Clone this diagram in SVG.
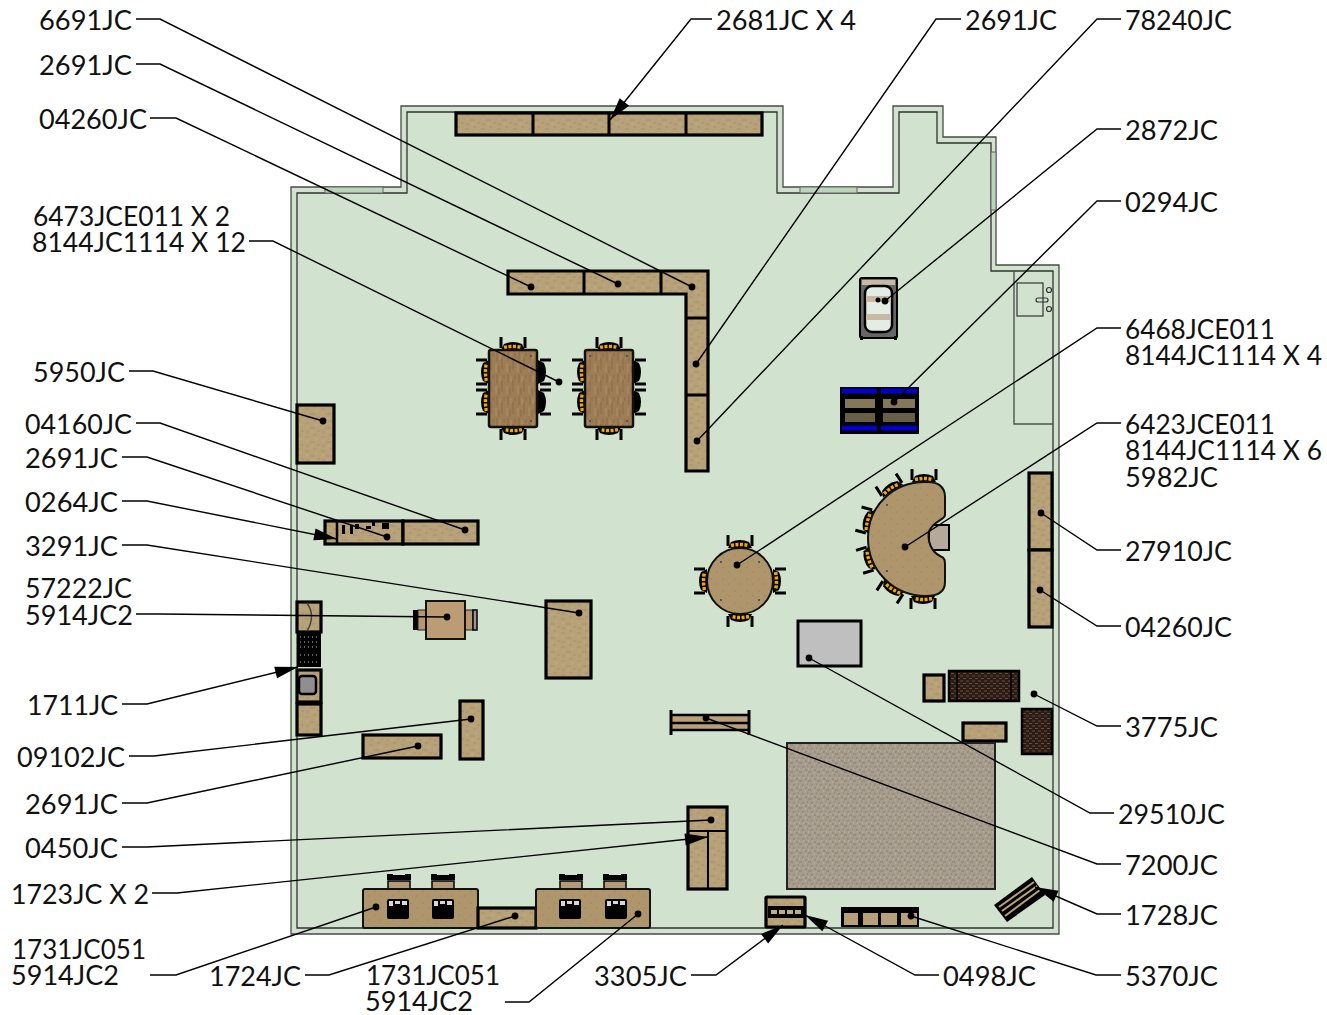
<svg xmlns="http://www.w3.org/2000/svg" width="1327" height="1015" viewBox="0 0 1327 1015">
<style>
text{font-family:"Lato","Noto Sans",sans-serif;font-size:27px;fill:#111}
.t{fill:url(#tan);stroke:#000;stroke-width:3.200}
.w{fill:url(#oak);stroke:#111;stroke-width:2.500}
.r{fill:url(#round);stroke:#111;stroke-width:2}
.ln{fill:none;stroke:#000;stroke-width:1.400}
.win{fill:#b9d6b8;stroke:#666;stroke-width:1}
.thin{fill:none;stroke:#333;stroke-width:1.300}
.sc{fill:#555}
</style>
<defs>
<marker id="dot" markerUnits="userSpaceOnUse" markerWidth="10" markerHeight="10" refX="5" refY="5"><circle cx="5" cy="5" r="3.400" fill="#000"/></marker>
<marker id="arr" markerUnits="userSpaceOnUse" markerWidth="25" markerHeight="14" refX="24" refY="7" orient="auto"><path d="M1,1L24,7L1,13Z" fill="#000"/></marker>
<pattern id="tan" width="16" height="14" patternUnits="userSpaceOnUse"><rect width="16" height="14" fill="#b7a178"/><path d="M1,3h4M9,1h3M6,8h5M13,11h3M2,12h3" stroke="#a99269" stroke-width="1"/><path d="M11,5h3M2,7h2M7,12h3" stroke="#c0ab84" stroke-width="1"/></pattern>
<pattern id="oak" width="11" height="22" patternUnits="userSpaceOnUse"><rect width="11" height="22" fill="#9d7d55"/><path d="M2,0v9M7,6v12M9,1v4M4,14v7" stroke="#8a6b45" stroke-width="1"/><path d="M5,2v6M1,12v8" stroke="#ad8f69" stroke-width="1"/></pattern>
<pattern id="round" width="12" height="12" patternUnits="userSpaceOnUse"><rect width="12" height="12" fill="#ae956c"/><path d="M2,3h2M8,8h2" stroke="#a1875e" stroke-width="1"/></pattern>
<pattern id="rug" width="9" height="9" patternUnits="userSpaceOnUse"><rect width="9" height="9" fill="#a69c8e"/><path d="M1,2h2M6,1h1M4,5h2M0,7h1M7,7h2" stroke="#8e7e66" stroke-width="1"/><path d="M2,4h1M7,4h1M4,8h1" stroke="#c4baac" stroke-width="1"/></pattern>
<pattern id="fab" width="6" height="5" patternUnits="userSpaceOnUse"><rect width="6" height="5" fill="#2a1c16"/><path d="M0,1h3M3,3.500h3" stroke="#6b4a36" stroke-width="1"/></pattern>
<g id="chair"><path d="M-12,-13V-2M12,-13V-2" stroke="#000" stroke-width="3" fill="none"/><path d="M-12,0L-9,-6Q0,-10 9,-6L12,0Z" fill="#000"/><path d="M-9,-2.500Q0,-4.500 9,-2.500" stroke="#f4a800" stroke-width="3.500" stroke-dasharray="3 1.500" fill="none"/></g>
<g id="chairD"><path d="M-12,-13V-2M12,-13V-2" stroke="#000" stroke-width="3" fill="none"/><path d="M-12,0L-9,-6Q0,-10 9,-6L12,0Z" fill="#000"/></g>
<g id="seat"><rect x="-11" y="-7" width="22" height="8" fill="#b39a78" stroke="#000" stroke-width="1.500"/><path d="M-11,-8V-13H-7V-12H7V-13H11V-8" fill="#000" stroke="#000" stroke-width="2"/></g>
<g id="screen"><rect x="-11" y="-10" width="22" height="20" rx="2" fill="#000"/><path d="M-9,-8h4v5h-4zM-3,-8h5v3h-5zM4,-8h5v4h-5z" fill="#d8d8d8"/></g>
</defs>
<rect width="1327" height="1015" fill="#fff"/>
<g id="floor">
<path d="M291,187H401V106H783V187H893V106H943V137H996V265H1059V934H291Z" fill="#d1e2cf" stroke="#4a4a4a" stroke-width="1.300"/>
<path class="thin" d="M297,193H407V112H777V193H899V112H937V143H991V271H1053V928H297Z"/>
<rect class="win" x="325" y="187" width="58" height="6"/>
<rect class="win" x="800" y="187" width="57" height="6"/>
<rect class="win" x="991" y="152" width="5" height="58"/>
<path fill="none" stroke="#4a554a" stroke-width="1.400" d="M1014,271V424H1053"/>
</g>
<g id="wash-sink" fill="none" stroke="#333" stroke-width="1.200"><rect x="1017" y="283" width="26" height="33"/><rect x="1036" y="298" width="12" height="4" rx="2"/><circle cx="1049" cy="290" r="2.500"/><circle cx="1049" cy="309" r="2.500"/></g>
<g id="n2681"><rect class="t" x="456" y="113" width="306" height="22"/><path d="M533,113V135M609,113V135M686,113V135" stroke="#000" stroke-width="3"/></g>
<g id="n-wall-L"><path class="t" d="M508,271H708V471H686V294H508Z"/><path d="M584,271V294M661,271V294M686,318H708M686,395H708" stroke="#000" stroke-width="3"/></g>
<g id="n6473">
<use href="#chair" transform="translate(513,350)"/><use href="#chair" transform="translate(513,427) rotate(180)"/>
<use href="#chair" transform="translate(489,372) rotate(-90)"/><use href="#chair" transform="translate(489,402) rotate(-90)"/>
<use href="#chairD" transform="translate(538,372) rotate(90)"/><use href="#chairD" transform="translate(538,402) rotate(90)"/>
<rect class="w" x="489" y="350" width="48" height="77" rx="2"/>
<use href="#chair" transform="translate(609,350)"/><use href="#chair" transform="translate(609,427) rotate(180)"/>
<use href="#chair" transform="translate(585,372) rotate(-90)"/><use href="#chair" transform="translate(585,402) rotate(-90)"/>
<use href="#chairD" transform="translate(633,372) rotate(90)"/><use href="#chairD" transform="translate(633,402) rotate(90)"/>
<rect class="w" x="585" y="350" width="48" height="77" rx="2"/>
<path class="sc" d="M530,355h2v2h-2zM530,420h2v2h-2zM589,355h2v2h-2zM626,355h2v2h-2zM589,420h2v2h-2zM626,420h2v2h-2z"/>
</g>
<g id="n5950"><rect class="t" x="297" y="405" width="37" height="58"/></g>
<g id="n0264"><rect class="t" x="325" y="521" width="78" height="23"/><path d="M337,521V544" stroke="#000" stroke-width="2.500"/><path d="M342,525h3v9h-3zM350,525h3v9h-3zM355,524h4v5h-4zM366,526h5v3h-5zM382,523h7v6h-7zM372,522h3v4h-3z" fill="#000"/></g>
<g id="n04160"><rect class="t" x="403" y="521" width="75" height="23"/></g>
<g id="n-kitchen">
<rect class="t" x="297" y="602" width="24" height="30" stroke-width="2"/><path d="M307,603Q316,616 307,631" fill="none" stroke="#444" stroke-width="1.500"/>
<rect x="297" y="632" width="24" height="35" fill="#000"/><path d="M300,637h18M300,642h18M300,647h18M300,655h18M300,662h18" stroke="#bbb" stroke-width="1" stroke-dasharray="1 3"/>
<rect class="t" x="297" y="670" width="24" height="32" stroke-width="2"/><rect x="299" y="676" width="17" height="18" rx="3" fill="#8f8f8f" stroke="#000" stroke-width="2.500"/>
<rect class="t" x="297" y="704" width="24" height="31" stroke-width="2"/>
</g>
<g id="n57222"><rect x="413" y="610" width="5" height="20" fill="#000"/><rect x="418" y="610" width="8" height="20" fill="#b8966f" stroke="#222"/><rect x="465" y="610" width="8" height="20" fill="#b8966f" stroke="#222"/><rect x="473" y="610" width="4" height="20" fill="#999" stroke="#000" stroke-width="1.500"/><rect x="426" y="601" width="39" height="38" fill="#bb9c75" stroke="#111" stroke-width="2"/></g>
<g id="n3291"><rect class="t" x="546" y="601" width="45" height="77" stroke-width="2"/></g>
<g id="n09102"><rect class="t" x="460" y="701" width="23" height="58"/></g>
<g id="n2691c"><rect class="t" x="363" y="735" width="78" height="23"/></g>
<g id="n0450"><rect class="t" x="688" y="807" width="39" height="82" stroke-width="2"/><path d="M688,831H727M708,831V889" stroke="#000" stroke-width="2"/></g>
<g id="n1731a"><use href="#seat" transform="translate(399,888)"/><use href="#seat" transform="translate(443,888)"/><rect class="r" x="363" y="889" width="115" height="39" rx="2"/><use href="#screen" transform="translate(398,909)"/><use href="#screen" transform="translate(443,909)"/></g>
<g id="n1724"><rect class="t" x="478" y="908" width="58" height="20"/></g>
<g id="n1731b"><use href="#seat" transform="translate(571,888)"/><use href="#seat" transform="translate(615,888)"/><rect class="r" x="536" y="889" width="114" height="39" rx="2"/><use href="#screen" transform="translate(570,909)"/><use href="#screen" transform="translate(616,909)"/></g>
<g id="n0498"><rect class="t" x="766" y="897" width="39" height="30" rx="1"/><rect x="768" y="906" width="36" height="12" fill="#000"/><path d="M771,912h30" stroke="#c4ab80" stroke-width="4" stroke-dasharray="6 2"/></g>
<g id="n5370"><rect x="841" y="907" width="78" height="20" fill="#000"/><path d="M844,913h14v12h-14zM863,913h15v12h-15zM881,913h16v12h-16zM901,913h16v12h-16z" fill="#b7a077"/></g>
<g id="n1728"><path d="M1032,877L1045,895L1007,922L994,905Z" fill="#000"/><path d="M1034,882L999,907M1037,886L1002,911M1040,890L1005,916" stroke="#b7a077" stroke-width="2"/></g>
<g id="n2872"><rect x="860" y="278" width="37" height="60" rx="2" fill="#666" stroke="#000" stroke-width="2"/><rect x="862" y="280" width="33" height="5" fill="#c8b9a0"/><rect x="865" y="286" width="27" height="46" rx="7" fill="#e4ece6" stroke="#000" stroke-width="2.500"/><path d="M866,299h25M866,317h25" stroke="#c8b9a0" stroke-width="6"/><circle cx="878" cy="300" r="2.500" fill="#000"/><path d="M860,338h3M894,338h3" stroke="#000" stroke-width="4"/></g>
<g id="n0294"><rect x="840" y="387" width="79" height="47" fill="#000"/><path d="M842,391h35M881,391h36M842,428h35M881,428h36" stroke="#0000c8" stroke-width="5"/><path d="M845,399h30v9h-30zM883,399h32v9h-32z" fill="#84775a"/><path d="M845,413h30v9h-30zM883,413h32v9h-32z" fill="#685e45"/></g>
<g id="n6468">
<use href="#chair" transform="translate(740,548)"/><use href="#chair" transform="translate(740,614) rotate(180)"/>
<use href="#chair" transform="translate(707,581) rotate(-90)"/><use href="#chair" transform="translate(773,581) rotate(90)"/>
<circle class="r" cx="740" cy="581" r="33"/>
<path class="sc" d="M720,561h2v2h-2zM758,561h2v2h-2zM720,599h2v2h-2zM758,599h2v2h-2z"/>
</g>
<g id="n6423">
<use href="#chair" transform="translate(924,482)"/><use href="#chair" transform="translate(893,491) rotate(-33)"/><use href="#chair" transform="translate(871,522) rotate(-75)"/><use href="#chair" transform="translate(872,558) rotate(-107)"/><use href="#chair" transform="translate(894,586) rotate(-147)"/><use href="#chair" transform="translate(923,596) rotate(180)"/>
<rect x="929" y="525" width="20" height="25" fill="#b5aa9a" stroke="#000" stroke-width="2"/>
<path class="r" d="M925,482C938,481 945,487 945,497V515C945,520 932,521 929,532C927,542 932,552 940,556C945,558 945,560 945,566V582C945,592 938,596 926,596C893,596 868,570 868,538C868,506 893,482 925,482Z"/>
<path class="sc" d="M886,504h2v2h-2zM886,570h2v2h-2z"/>
</g>
<g id="n29510"><rect x="798" y="621" width="63" height="45" fill="#bfbfbf" stroke="#000" stroke-width="3"/></g>
<g id="n3775"><rect class="t" x="924" y="675" width="20" height="26" stroke-width="2"/><rect x="949" y="671" width="70" height="30" fill="url(#fab)" stroke="#000" stroke-width="2.500"/><path d="M957,671V701M1011,671V701" stroke="#000" stroke-width="1.500"/><rect x="1022" y="709" width="30" height="45" fill="url(#fab)" stroke="#000" stroke-width="2.500"/><rect class="t" x="963" y="723" width="43" height="18" stroke-width="2"/></g>
<g id="n-rug"><rect x="787" y="743" width="208" height="146" fill="url(#rug)" stroke="#222" stroke-width="2"/></g>
<g id="n7200"><rect x="671" y="715" width="78" height="15" fill="#b7a077"/><path d="M671,715H749M671,723H749M671,730H749" stroke="#000" stroke-width="2.500"/><path d="M671,710V735M749,710V735" stroke="#000" stroke-width="3"/></g>
<g id="n27910"><rect class="t" x="1029" y="473" width="23" height="77"/></g>
<g id="n04260r"><rect class="t" x="1029" y="550" width="23" height="77"/></g>
<g id="connectors">
<polyline class="ln" marker-end="url(#dot)" points="136,19 160,19 692,287"/>
<polyline class="ln" marker-end="url(#dot)" points="136,64 160,64 618,284"/>
<polyline class="ln" marker-end="url(#dot)" points="150,118 176,118 531,287"/>
<polyline class="ln" marker-end="url(#dot)" points="249,241 273,241 559,382"/>
<polyline class="ln" marker-end="url(#dot)" points="129,371 153,371 323,421"/>
<polyline class="ln" marker-end="url(#dot)" points="136,423 160,423 465,530"/>
<polyline class="ln" marker-end="url(#dot)" points="122,457 147,457 387,537"/>
<polyline class="ln" marker-end="url(#arr)" points="122,501 147,501 337,539"/>
<polyline class="ln" marker-end="url(#dot)" points="122,545 147,545 579,613"/>
<polyline class="ln" marker-end="url(#dot)" points="136,614 160,614 447,617"/>
<polyline class="ln" marker-end="url(#arr)" points="122,704 147,704 298,667"/>
<polyline class="ln" marker-end="url(#dot)" points="129,756 154,756 471,719"/>
<polyline class="ln" marker-end="url(#dot)" points="122,803 147,803 418,746"/>
<polyline class="ln" marker-end="url(#dot)" points="122,847 147,847 711,820"/>
<polyline class="ln" marker-end="url(#arr)" points="152,893 177,893 708,837"/>
<polyline class="ln" marker-end="url(#dot)" points="150,975 176,975 376,907"/>
<polyline class="ln" marker-end="url(#dot)" points="305,975 329,975 515,916"/>
<polyline class="ln" marker-end="url(#dot)" points="505,1002 529,1002 638,914"/>
<polyline class="ln" marker-end="url(#arr)" points="691,975 716,975 783,925"/>
<polyline class="ln" marker-end="url(#arr)" points="939,975 915,975 805,915"/>
<polyline class="ln" marker-end="url(#dot)" points="1121,975 1096,975 911,916"/>
<polyline class="ln" marker-end="url(#arr)" points="1121,914 1097,914 1035,887"/>
<polyline class="ln" marker-end="url(#dot)" points="1121,864 1097,864 706,718"/>
<polyline class="ln" marker-end="url(#dot)" points="1114,813 1090,813 809,658"/>
<polyline class="ln" marker-end="url(#dot)" points="1121,726 1097,726 1034,694"/>
<polyline class="ln" marker-end="url(#dot)" points="1121,626 1097,626 1040,590"/>
<polyline class="ln" marker-end="url(#dot)" points="1121,550 1097,550 1041,513"/>
<polyline class="ln" marker-end="url(#dot)" points="1121,423 1097,423 905,547"/>
<polyline class="ln" marker-end="url(#dot)" points="1121,328 1097,328 737,565"/>
<polyline class="ln" marker-end="url(#dot)" points="1121,201 1097,201 894,402"/>
<polyline class="ln" marker-end="url(#dot)" points="1121,129 1097,129 885,301"/>
<polyline class="ln" marker-end="url(#dot)" points="1121,19 1097,19 697,441"/>
<polyline class="ln" marker-end="url(#dot)" points="961,19 936,19 696,364"/>
<polyline class="ln" marker-end="url(#arr)" points="712,19 691,19 610,120"/>
</g>
<g id="labels">
<text x="39" y="30" textLength="93" lengthAdjust="spacingAndGlyphs">6691JC</text>
<text x="39" y="75" textLength="93" lengthAdjust="spacingAndGlyphs">2691JC</text>
<text x="39" y="129" textLength="108" lengthAdjust="spacingAndGlyphs">04260JC</text>
<text><tspan x="33" y="226" textLength="197" lengthAdjust="spacingAndGlyphs">6473JCE011 X 2</tspan><tspan x="32" y="252" textLength="214" lengthAdjust="spacingAndGlyphs">8144JC1114 X 12</tspan></text>
<text x="33" y="382" textLength="92" lengthAdjust="spacingAndGlyphs">5950JC</text>
<text x="25" y="434" textLength="107" lengthAdjust="spacingAndGlyphs">04160JC</text>
<text x="25" y="468" textLength="93" lengthAdjust="spacingAndGlyphs">2691JC</text>
<text x="25" y="512" textLength="93" lengthAdjust="spacingAndGlyphs">0264JC</text>
<text x="25" y="556" textLength="93" lengthAdjust="spacingAndGlyphs">3291JC</text>
<text><tspan x="25" y="598" textLength="107" lengthAdjust="spacingAndGlyphs">57222JC</tspan><tspan x="25" y="625" textLength="108" lengthAdjust="spacingAndGlyphs">5914JC2</tspan></text>
<text x="27" y="715" textLength="91" lengthAdjust="spacingAndGlyphs">1711JC</text>
<text x="17" y="767" textLength="108" lengthAdjust="spacingAndGlyphs">09102JC</text>
<text x="25" y="814" textLength="93" lengthAdjust="spacingAndGlyphs">2691JC</text>
<text x="25" y="858" textLength="93" lengthAdjust="spacingAndGlyphs">0450JC</text>
<text x="11" y="904" textLength="138" lengthAdjust="spacingAndGlyphs">1723JC X 2</text>
<text><tspan x="12" y="959" textLength="134" lengthAdjust="spacingAndGlyphs">1731JC051</tspan><tspan x="11" y="985" textLength="108" lengthAdjust="spacingAndGlyphs">5914JC2</tspan></text>
<text x="209" y="986" textLength="92" lengthAdjust="spacingAndGlyphs">1724JC</text>
<text><tspan x="366" y="985" textLength="134" lengthAdjust="spacingAndGlyphs">1731JC051</tspan><tspan x="365" y="1011" textLength="108" lengthAdjust="spacingAndGlyphs">5914JC2</tspan></text>
<text x="594" y="986" textLength="93" lengthAdjust="spacingAndGlyphs">3305JC</text>
<text x="943" y="986" textLength="93" lengthAdjust="spacingAndGlyphs">0498JC</text>
<text x="1125" y="986" textLength="93" lengthAdjust="spacingAndGlyphs">5370JC</text>
<text x="1125" y="925" textLength="93" lengthAdjust="spacingAndGlyphs">1728JC</text>
<text x="1125" y="875" textLength="93" lengthAdjust="spacingAndGlyphs">7200JC</text>
<text x="1118" y="824" textLength="107" lengthAdjust="spacingAndGlyphs">29510JC</text>
<text x="1125" y="737" textLength="93" lengthAdjust="spacingAndGlyphs">3775JC</text>
<text x="1125" y="637" textLength="107" lengthAdjust="spacingAndGlyphs">04260JC</text>
<text x="1125" y="561" textLength="107" lengthAdjust="spacingAndGlyphs">27910JC</text>
<text><tspan x="1125" y="434" textLength="150" lengthAdjust="spacingAndGlyphs">6423JCE011</tspan><tspan x="1125" y="460" textLength="197" lengthAdjust="spacingAndGlyphs">8144JC1114 X 6</tspan><tspan x="1125" y="487" textLength="93" lengthAdjust="spacingAndGlyphs">5982JC</tspan></text>
<text><tspan x="1125" y="339" textLength="150" lengthAdjust="spacingAndGlyphs">6468JCE011</tspan><tspan x="1125" y="365" textLength="197" lengthAdjust="spacingAndGlyphs">8144JC1114 X 4</tspan></text>
<text x="1125" y="212" textLength="93" lengthAdjust="spacingAndGlyphs">0294JC</text>
<text x="1125" y="140" textLength="93" lengthAdjust="spacingAndGlyphs">2872JC</text>
<text x="1125" y="30" textLength="107" lengthAdjust="spacingAndGlyphs">78240JC</text>
<text x="965" y="30" textLength="92" lengthAdjust="spacingAndGlyphs">2691JC</text>
<text x="716" y="30" textLength="140" lengthAdjust="spacingAndGlyphs">2681JC X 4</text>
</g>
</svg>
